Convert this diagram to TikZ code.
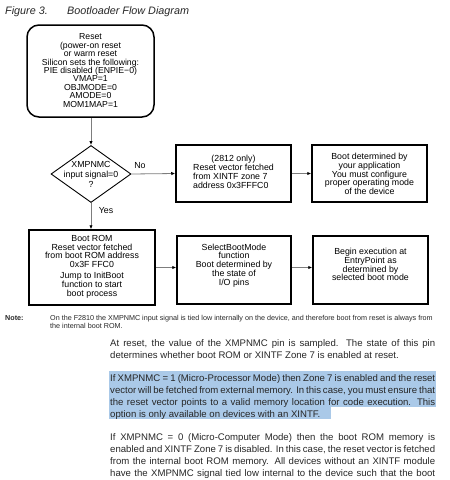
\documentclass[tikz,border=0pt]{standalone}
\usepackage{fontspec}
\setmainfont{Liberation Sans}
\usetikzlibrary{arrows.meta,shapes.geometric}
\definecolor{hl}{RGB}{170,201,232}
\definecolor{connclr}{RGB}{125,125,125}
\newcommand{\jline}[1]{\makebox[325pt][s]{#1}}
\begin{document}
\begin{tikzpicture}[x=1pt,y=-1pt,
  box/.style={draw=black, line width=1.5pt, align=center, inner sep=0pt},
  dtext/.style={font=\fontsize{8.8}{8.8}\selectfont, align=center, inner sep=0pt},
  conn/.style={draw=connclr, line width=0.8pt, -{Latex[length=4pt,width=3.4pt,color=black]}},
  para/.style={anchor=base west, inner sep=0pt, font=\fontsize{9.6}{12}\selectfont, text=black!85},
  notefont/.style={anchor=base west, inner sep=0pt, font=\fontsize{7.2}{8}\selectfont, text=black!85},
  captext/.style={anchor=base west, inner sep=0pt, font=\fontsize{10.8}{13}\selectfont\itshape, text=black!85},
  hlband/.style={fill=hl, draw=none}
]
\useasboundingbox (0,0) rectangle (450,480);
\clip (0,0) rectangle (450,480);

% caption
\node[captext] (fig) at (5,14) {Figure 3.};
\node[captext] (title) at (67,14) {Bootloader Flow Diagram};

% boxes
\node[box, rounded corners=12pt, minimum width=127pt, minimum height=92pt] (reset) at (90.5,71) {};
\node[dtext, font=\fontsize{8.7}{8.4}\selectfont] (resettext) at (90.5,70.5) {Reset\\(power-on reset\\or warm reset\\Silicon sets the following:\\PIE disabled (ENPIE−0)\\VMAP=1\\OBJMODE=0\\AMODE=0\\MOM1MAP=1};

\node[diamond, draw=black, line width=0.9pt, minimum width=80pt, minimum height=57pt, inner sep=0pt] (dec) at (91,174) {};
\node[dtext, font=\fontsize{8.8}{10}\selectfont] (dectext) at (91,174) {XMPNMC\\input signal=0\\?};

\node[box, minimum width=115pt, minimum height=57pt] (xintf) at (233.5,173.5) {};
\node[dtext] (xintftext) at (233.5,173.5) {\begin{tabular}{@{}l@{}}\multicolumn{1}{@{}c@{}}{(2812 only)}\\Reset vector fetched\\from XINTF zone 7\\address 0x3FFFC0\end{tabular}};

\node[box, minimum width=115pt, minimum height=57pt] (app) at (369.5,173.5) {};
\node[dtext] (apptext) at (369.5,174) {Boot determined by\\your application\\You must configure\\proper operating mode\\of the device};

\node[box, minimum width=126pt, minimum height=75pt] (rom) at (92,267.5) {};
\node[dtext] (romtext) at (92,266.5) {Boot ROM\\Reset vector fetched\\from boot ROM address\\0x3F FFC0\\[2pt]Jump to InitBoot\\function to start\\boot process};

\node[box, minimum width=114pt, minimum height=68pt] (sel) at (234,270) {};
\node[dtext] (seltext) at (234,265.5) {SelectBootMode\\function\\Boot determined by\\the state of\\I/O pins};

\node[box, minimum width=115pt, minimum height=68pt] (entry) at (370.5,270) {};
\node[dtext] (entrytext) at (370.5,264.5) {Begin execution at\\EntryPoint as\\determined by\\selected boot mode};

% labels
\node[dtext] (no) at (140,166) {No};
\node[dtext] (yes) at (106,211) {Yes};

% connectors
\draw[conn] (reset.south -| dec.north) -- (dec.north);
\draw[conn] (dec.east) -- (xintf.west);
\draw[conn] (xintf.east) -- (app.west);
\draw[conn] (dec.south) -- (dec.south |- rom.north);
\draw[conn] (rom.east) -- (rom.east -| sel.west);
\draw[conn] (rom.east -| sel.east) -- (rom.east -| entry.west);

% note
\node[notefont, font=\fontsize{7.2}{8}\selectfont\bfseries] (notelbl) at (5,320) {Note:};
\node[notefont] (note1) at (50,320) {On the F2810 the XMPNMC input signal is tied low internally on the device, and therefore boot from reset is always from};
\node[notefont] (note2) at (50,328) {the internal boot ROM.};

% highlight bands
\fill[hlband] (109,371) rectangle (436,383);
\fill[hlband] (109,383) rectangle (436,395);
\fill[hlband] (109,395) rectangle (436,407);
\fill[hlband] (109,407) rectangle (331,419);

% paragraphs
\node[para] (p1a) at (110,346) {\jline{At reset, the value of the XMPNMC pin is sampled. The state of this pin}};
\node[para] (p1b) at (110,358) {determines whether boot ROM or XINTF Zone 7 is enabled at reset.};

\node[para] (p2a) at (110,381) {\jline{If XMPNMC = 1 (Micro-Processor Mode) then Zone 7 is enabled and the reset}};
\node[para] (p2b) at (110,393) {\jline{vector will be fetched from external memory. In this case, you must ensure that}};
\node[para] (p2c) at (110,405) {\jline{the reset vector points to a valid memory location for code execution. This}};
\node[para] (p2d) at (110,417) {option is only available on devices with an XINTF.};

\node[para] (p3a) at (110,440) {\jline{If XMPNMC = 0 (Micro-Computer Mode) then the boot ROM memory is}};
\node[para] (p3b) at (110,452) {\jline{enabled and XINTF Zone 7 is disabled. In this case, the reset vector is fetched}};
\node[para] (p3c) at (110,464) {\jline{from the internal boot ROM memory. All devices without an XINTF module}};
\node[para] (p3d) at (110,476) {\jline{have the XMPNMC signal tied low internal to the device such that the boot}};
\node[para] (p3e) at (110,488) {ROM memory is always enabled at reset.};
\end{tikzpicture}
\end{document}
